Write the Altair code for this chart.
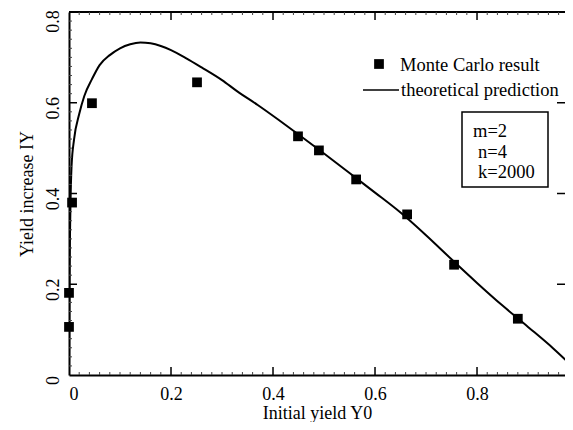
import altair as alt
import pandas as pd

# Monte Carlo results
mc_x = [0.0, 0.0, 0.006, 0.045, 0.251, 0.449, 0.49, 0.563, 0.663, 0.755, 0.88]
mc_y = [0.106, 0.181, 0.38, 0.599, 0.645, 0.526, 0.495, 0.431, 0.354, 0.243, 0.124]

# theoretical prediction curve
th_x = [0.0, 0.001, 0.003, 0.005, 0.01, 0.02, 0.03, 0.045, 0.06, 0.08, 0.1, 0.12,
        0.14, 0.16, 0.18, 0.2, 0.23, 0.26, 0.3, 0.33, 0.37, 0.41, 0.45, 0.5,
        0.55, 0.6, 0.65, 0.7, 0.75, 0.8, 0.85, 0.9, 0.95, 0.988]
th_y = [0.0, 0.2, 0.38, 0.46, 0.52, 0.575, 0.615, 0.652, 0.683, 0.705, 0.72, 0.729,
        0.733, 0.731, 0.725, 0.716, 0.698, 0.678, 0.65, 0.625, 0.595, 0.563, 0.53, 0.488,
        0.445, 0.402, 0.358, 0.308, 0.255, 0.203, 0.153, 0.106, 0.058, 0.018]

tick_labels = [0, 0.2, 0.4, 0.6, 0.8]
x_ticks = [0.2, 0.4, 0.6, 0.8]
y_ticks = [0.2, 0.4, 0.6]
x_minor = [round(i * 0.02, 2) for i in range(1, 49) if i % 10 != 0]
y_minor = [round(i * 0.02, 2) for i in range(1, 40) if i % 10 != 0]

W, H = 496, 363
XMAX = 0.9725
FONT = "Liberation Serif"

mc = pd.DataFrame({"x": mc_x, "y": mc_y})
th = pd.DataFrame({"x": th_x, "y": th_y})
xt = pd.DataFrame({"x": x_ticks})
yt = pd.DataFrame({"y": y_ticks})
xm = pd.DataFrame({"x": x_minor})
ym = pd.DataFrame({"y": y_minor})
one = pd.DataFrame({"a": [0]})

xscale = alt.Scale(domain=[0, XMAX], nice=False)
yscale = alt.Scale(domain=[0, 0.8], nice=False)
lab = "datum.value == 0 ? '0' : format(datum.value, '.1f')"

xaxis = alt.Axis(title="Initial yield Y0", values=tick_labels, labelExpr=lab,
                 ticks=False, grid=False, domainColor="black", domainWidth=2,
                 labelPadding=10, titleBaseline="alphabetic", titleY=43)
yaxis = alt.Axis(title="Yield increase IY", values=tick_labels, labelExpr=lab,
                 ticks=False, grid=False, domainColor="black", domainWidth=2,
                 labelAngle=270, labelAlign="center", labelBaseline="bottom",
                 labelOffset=alt.condition("datum.value >= 0.79", alt.value(9), alt.value(5)),
                 labelPadding=7, titlePadding=8)

curve = alt.Chart(th).mark_line(color="black", strokeWidth=2, interpolate="monotone", clip=True).encode(
    x=alt.X("x:Q", scale=xscale, axis=xaxis),
    y=alt.Y("y:Q", scale=yscale, axis=yaxis),
)
pts = alt.Chart(mc).mark_square(color="black", size=95, opacity=1).encode(
    x=alt.X("x:Q", scale=xscale), y=alt.Y("y:Q", scale=yscale)
)

top_line = alt.Chart(one).mark_rule(color="black", strokeWidth=2).encode(
    x=alt.value(0), x2=alt.value(W), y=alt.value(0))
xt_bot = alt.Chart(xt).mark_rule(color="black", strokeWidth=1.5).encode(
    x=alt.X("x:Q", scale=xscale), y=alt.value(H), y2=alt.value(H - 8))
xt_top = alt.Chart(xt).mark_rule(color="black", strokeWidth=1.5).encode(
    x=alt.X("x:Q", scale=xscale), y=alt.value(0), y2=alt.value(8))
yt_left = alt.Chart(yt).mark_rule(color="black", strokeWidth=1.5).encode(
    y=alt.Y("y:Q", scale=yscale), x=alt.value(0), x2=alt.value(8))
yt_right = alt.Chart(yt).mark_rule(color="black", strokeWidth=1.5).encode(
    y=alt.Y("y:Q", scale=yscale), x=alt.value(W - 8), x2=alt.value(W))

xm_bot = alt.Chart(xm).mark_rule(color="#444444", strokeWidth=1).encode(
    x=alt.X("x:Q", scale=xscale), y=alt.value(H), y2=alt.value(H - 3))
xm_top = alt.Chart(xm).mark_rule(color="#444444", strokeWidth=1).encode(
    x=alt.X("x:Q", scale=xscale), y=alt.value(0), y2=alt.value(3))
ym_left = alt.Chart(ym).mark_rule(color="#444444", strokeWidth=1).encode(
    y=alt.Y("y:Q", scale=yscale), x=alt.value(0), x2=alt.value(3))

leg_sq = alt.Chart(one).mark_square(color="black", size=95, opacity=1).encode(
    x=alt.value(310), y=alt.value(52))
leg_t1 = alt.Chart(one).mark_text(text="Monte Carlo result", font=FONT, fontSize=18.5,
                                  align="left", baseline="middle", color="black").encode(
    x=alt.value(331), y=alt.value(53))
leg_ln = alt.Chart(one).mark_rule(color="black", strokeWidth=1.5).encode(
    x=alt.value(294), x2=alt.value(330), y=alt.value(78))
leg_t2 = alt.Chart(one).mark_text(text="theoretical prediction", font=FONT, fontSize=18.5,
                                  align="left", baseline="middle", color="black").encode(
    x=alt.value(332), y=alt.value(78))

box = alt.Chart(one).mark_rect(fill="white", stroke="black", strokeWidth=1.5).encode(
    x=alt.value(393), x2=alt.value(479), y=alt.value(100), y2=alt.value(175))
p1 = alt.Chart(one).mark_text(text="m=2", font=FONT, fontSize=18.5, align="left",
                              baseline="middle", color="black").encode(x=alt.value(404), y=alt.value(119))
p2 = alt.Chart(one).mark_text(text="n=4", font=FONT, fontSize=18.5, align="left",
                              baseline="middle", color="black").encode(x=alt.value(409), y=alt.value(140))
p3 = alt.Chart(one).mark_text(text="k=2000", font=FONT, fontSize=18.5, align="left",
                              baseline="middle", color="black").encode(x=alt.value(409), y=alt.value(160))

chart = alt.layer(
    curve, top_line, xm_bot, xm_top, ym_left, xt_bot, xt_top, yt_left, yt_right, pts,
    leg_sq, leg_t1, leg_ln, leg_t2, box, p1, p2, p3
).properties(
    width=W, height=H,
    autosize=alt.AutoSizeParams(type="none"),
    padding={"left": 61, "top": 4, "right": 0, "bottom": 47},
    background="white",
).configure_view(
    strokeWidth=0
).configure_axis(
    labelFont=FONT, titleFont=FONT, labelFontSize=18, titleFontSize=18,
    labelColor="black", titleColor="black", titleFontWeight="normal",
)

chart.save("out.html", embed_options={"renderer": "svg", "actions": False})
